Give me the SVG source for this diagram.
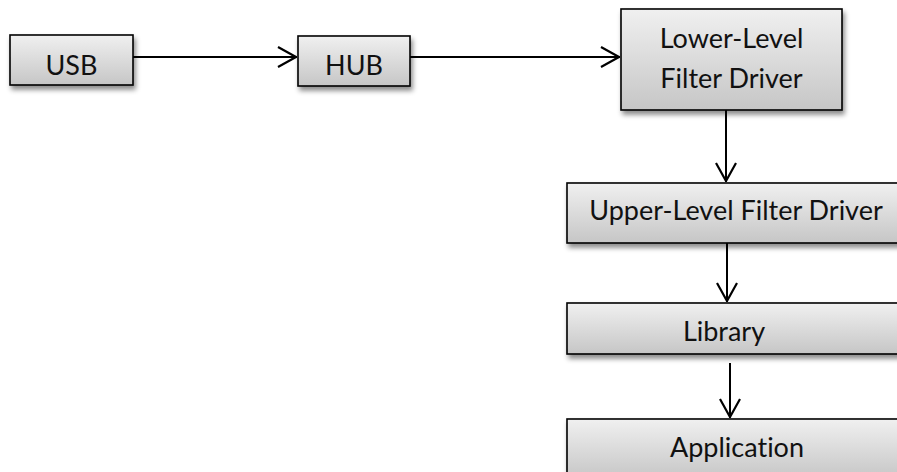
<svg xmlns="http://www.w3.org/2000/svg" width="897" height="472" viewBox="0 0 897 472">
<style>
.box{fill:url(#g);stroke:#000;stroke-width:1.6;filter:url(#sh)}
.t{font-family:Lato,"Open Sans","Liberation Sans",sans-serif;font-size:27px;fill:#111;text-anchor:middle;font-variant-ligatures:none;font-feature-settings:"liga" 0,"dlig" 0}
.c{stroke:#000;stroke-width:2;fill:none;marker-end:url(#ah)}
</style>
<defs>
<linearGradient id="g" x1="0" y1="0" x2="0" y2="1">
<stop offset="0" stop-color="#f0f0f0"/>
<stop offset="1" stop-color="#c6c6c6"/>
</linearGradient>
<filter id="sh" x="-10%" y="-10%" width="130%" height="140%">
<feDropShadow dx="2" dy="4" stdDeviation="2.5" flood-color="#000" flood-opacity="0.45"/>
</filter>
<marker id="ah" viewBox="0 0 20 22" refX="20" refY="11" markerWidth="20" markerHeight="22" markerUnits="userSpaceOnUse" orient="auto">
<path d="M1,1 L19,11 L1,21" fill="none" stroke="#000" stroke-width="2.2"/>
</marker>
</defs>
<g id="connectors">
<line class="c" x1="133" y1="57" x2="297" y2="57"/>
<line class="c" x1="410" y1="57" x2="620" y2="57"/>
<line class="c" x1="726" y1="110" x2="726" y2="182"/>
<line class="c" x1="727" y1="243" x2="727" y2="302"/>
<line class="c" x1="730" y1="363" x2="730" y2="418"/>
</g>
<g id="usb"><rect class="box" x="10" y="35" width="123" height="50"/><text class="t" x="71.5" y="75">USB</text></g>
<g id="hub"><rect class="box" x="298" y="36" width="112" height="50"/><text class="t" x="354" y="75">HUB</text></g>
<g id="lower"><rect class="box" x="621" y="9" width="221" height="101"/><text class="t" x="731.5" y="48">Lower-Level</text><text class="t" x="731.5" y="88">Filter Driver</text></g>
<g id="upper"><rect class="box" x="567" y="183" width="340" height="60"/><text class="t" x="736" y="220">Upper-Level Filter Driver</text></g>
<g id="library"><rect class="box" x="567" y="303" width="340" height="51"/><text class="t" x="724" y="341">Library</text></g>
<g id="application"><rect class="box" x="567" y="419" width="340" height="60"/><text class="t" x="737" y="457">Application</text></g>
</svg>
